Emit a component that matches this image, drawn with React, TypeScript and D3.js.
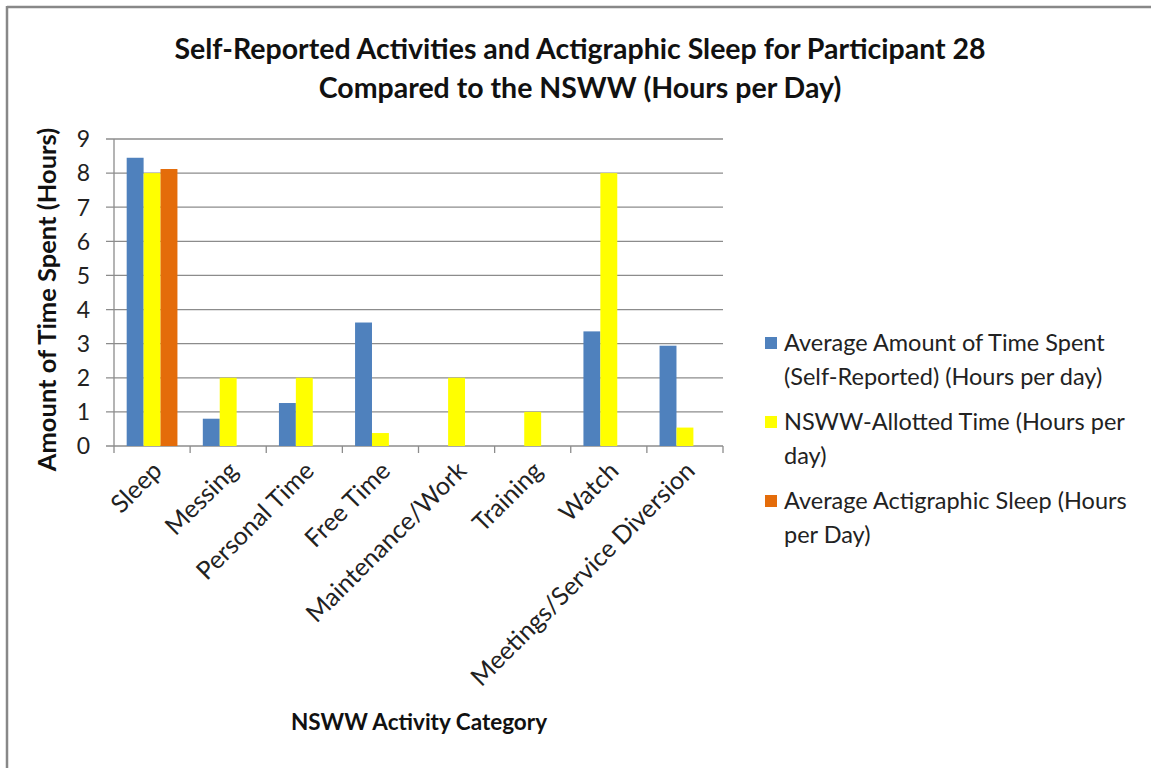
import React, { useEffect, useRef } from 'react';
import * as d3 from 'd3';

const categories = [
  'Sleep',
  'Messing',
  'Personal Time',
  'Free Time',
  'Maintenance/Work',
  'Training',
  'Watch',
  'Meetings/Service Diversion',
];

const selfReported = [8.45, 0.8, 1.26, 3.62, 0, 0, 3.36, 2.94];
const nswwAllotted = [8, 2, 2, 0.38, 2, 1, 8, 0.54];
const actigraphic = [8.12, 0, 0, 0, 0, 0, 0, 0];

const seriesNames = [
  ['Average Amount of Time Spent', '(Self-Reported) (Hours per day)'],
  ['NSWW-Allotted Time (Hours per', 'day)'],
  ['Average Actigraphic Sleep (Hours', 'per Day)'],
];
const seriesColors = ['#4f81bd', '#ffff00', '#e46c0a'];
const yTicks = [0, 1, 2, 3, 4, 5, 6, 7, 8, 9];

const FONT = 'Lato, "Open Sans", sans-serif';

export default function App() {
  const svgRef = useRef<SVGSVGElement>(null);

  useEffect(() => {
    if (!svgRef.current) return;
    const svg = d3.select(svgRef.current);
    svg.selectAll('*').remove();

    const W = 1151;
    const H = 768;
    const left = 114;
    const right = 723;
    const top = 139;
    const bottom = 446;

    svg.append('rect').attr('width', W).attr('height', H).attr('fill', '#fff');
    // chart area border: only top and left edges fall inside the picture
    svg.append('line').attr('x1', 7).attr('x2', W).attr('y1', 7).attr('y2', 7)
      .attr('stroke', '#888').attr('stroke-width', 2.5);
    svg.append('line').attr('x1', 7).attr('x2', 7).attr('y1', 6).attr('y2', H)
      .attr('stroke', '#888').attr('stroke-width', 2.5);

    // Title
    const title = svg.append('text')
      .attr('text-anchor', 'middle')
      .attr('font-family', FONT).attr('font-weight', 700).attr('font-size', 28.5)
      .attr('fill', '#111');
    title.append('tspan').attr('x', 580).attr('y', 59)
      .text('Self-Reported Activities and Actigraphic Sleep for Participant 28');
    title.append('tspan').attr('x', 580).attr('y', 98)
      .text('Compared to the NSWW (Hours per Day)');

    const x = d3.scaleBand<string>().domain(categories).range([left, right]).paddingInner(0).paddingOuter(0);
    const y = d3.scaleLinear().domain([0, 9]).range([bottom, top]);
    const slot = d3.scaleBand<number>().domain([0, 1, 2]).range([0, x.bandwidth()]).paddingOuter(0.75).paddingInner(0);

    // Grid
    const g = svg.append('g');
    g.selectAll('line.grid').data(yTicks).enter().append('line')
      .attr('x1', left - 8).attr('x2', right)
      .attr('y1', d => y(d)).attr('y2', d => y(d))
      .attr('stroke', '#8c8c8c').attr('stroke-width', 1.3);

    g.selectAll('text.ytick').data(yTicks).enter().append('text')
      .attr('x', 90).attr('y', d => y(d)).attr('dy', '0.36em')
      .attr('text-anchor', 'end')
      .attr('font-family', FONT).attr('font-size', 23).attr('fill', '#222')
      .text(d => d);

    // y axis line
    g.append('line').attr('x1', left).attr('x2', left).attr('y1', top).attr('y2', bottom)
      .attr('stroke', '#8c8c8c').attr('stroke-width', 1.3);

    // x category ticks
    const tickXs = categories.map(c => x(c)!).concat([right]);
    g.selectAll('line.xtick').data(tickXs).enter().append('line')
      .attr('x1', d => d).attr('x2', d => d).attr('y1', bottom).attr('y2', bottom + 7)
      .attr('stroke', '#8c8c8c').attr('stroke-width', 1.3);

    // Bars
    const series = [selfReported, nswwAllotted, actigraphic];
    series.forEach((vals, si) => {
      g.selectAll(`rect.s${si}`).data(vals.map((v, i) => ({ v, c: categories[i] })).filter(d => d.v > 0))
        .enter().append('rect')
        .attr('x', d => x(d.c)! + slot(si)!)
        .attr('width', slot.bandwidth())
        .attr('y', d => y(d.v))
        .attr('height', d => bottom - y(d.v))
        .attr('fill', seriesColors[si]);
    });

    // x tick labels
    g.selectAll('text.xlab').data(categories).enter().append('text')
      .attr('transform', d => `translate(${x(d)! + x.bandwidth() / 2 - 1},${bottom + 14}) rotate(-45)`)
      .attr('text-anchor', 'end').attr('dy', '0.7em')
      .attr('font-family', FONT).attr('font-size', 25).attr('fill', '#222')
      .text(d => d);

    // axis titles
    svg.append('text')
      .attr('transform', `translate(56,${(top + bottom) / 2 + 7}) rotate(-90)`)
      .attr('text-anchor', 'middle')
      .attr('font-family', FONT).attr('font-weight', 700).attr('font-size', 25.5).attr('fill', '#111')
      .text('Amount of Time Spent (Hours)');

    svg.append('text')
      .attr('x', 419).attr('y', 730)
      .attr('text-anchor', 'middle')
      .attr('font-family', FONT).attr('font-weight', 700).attr('font-size', 22.5).attr('fill', '#111')
      .text('NSWW Activity Category');

    // Legend
    const legend = svg.append('g');
    seriesNames.forEach((lines, i) => {
      const ly = 343 + i * 79;
      legend.append('rect')
        .attr('x', 765).attr('y', ly - 6).attr('width', 12).attr('height', 12)
        .attr('fill', seriesColors[i]);
      const t = legend.append('text')
        .attr('font-family', FONT).attr('font-size', 23.5).attr('fill', '#222');
      lines.forEach((ln, j) => {
        t.append('tspan').attr('x', 784).attr('y', ly + 8 + j * 34).text(ln);
      });
    });
  }, []);

  return (
    <div style={{ position: 'absolute', left: 0, top: 0, width: 1151, height: 768 }}>
      <svg ref={svgRef} width={1151} height={768} style={{ display: 'block' }} />
    </div>
  );
}
